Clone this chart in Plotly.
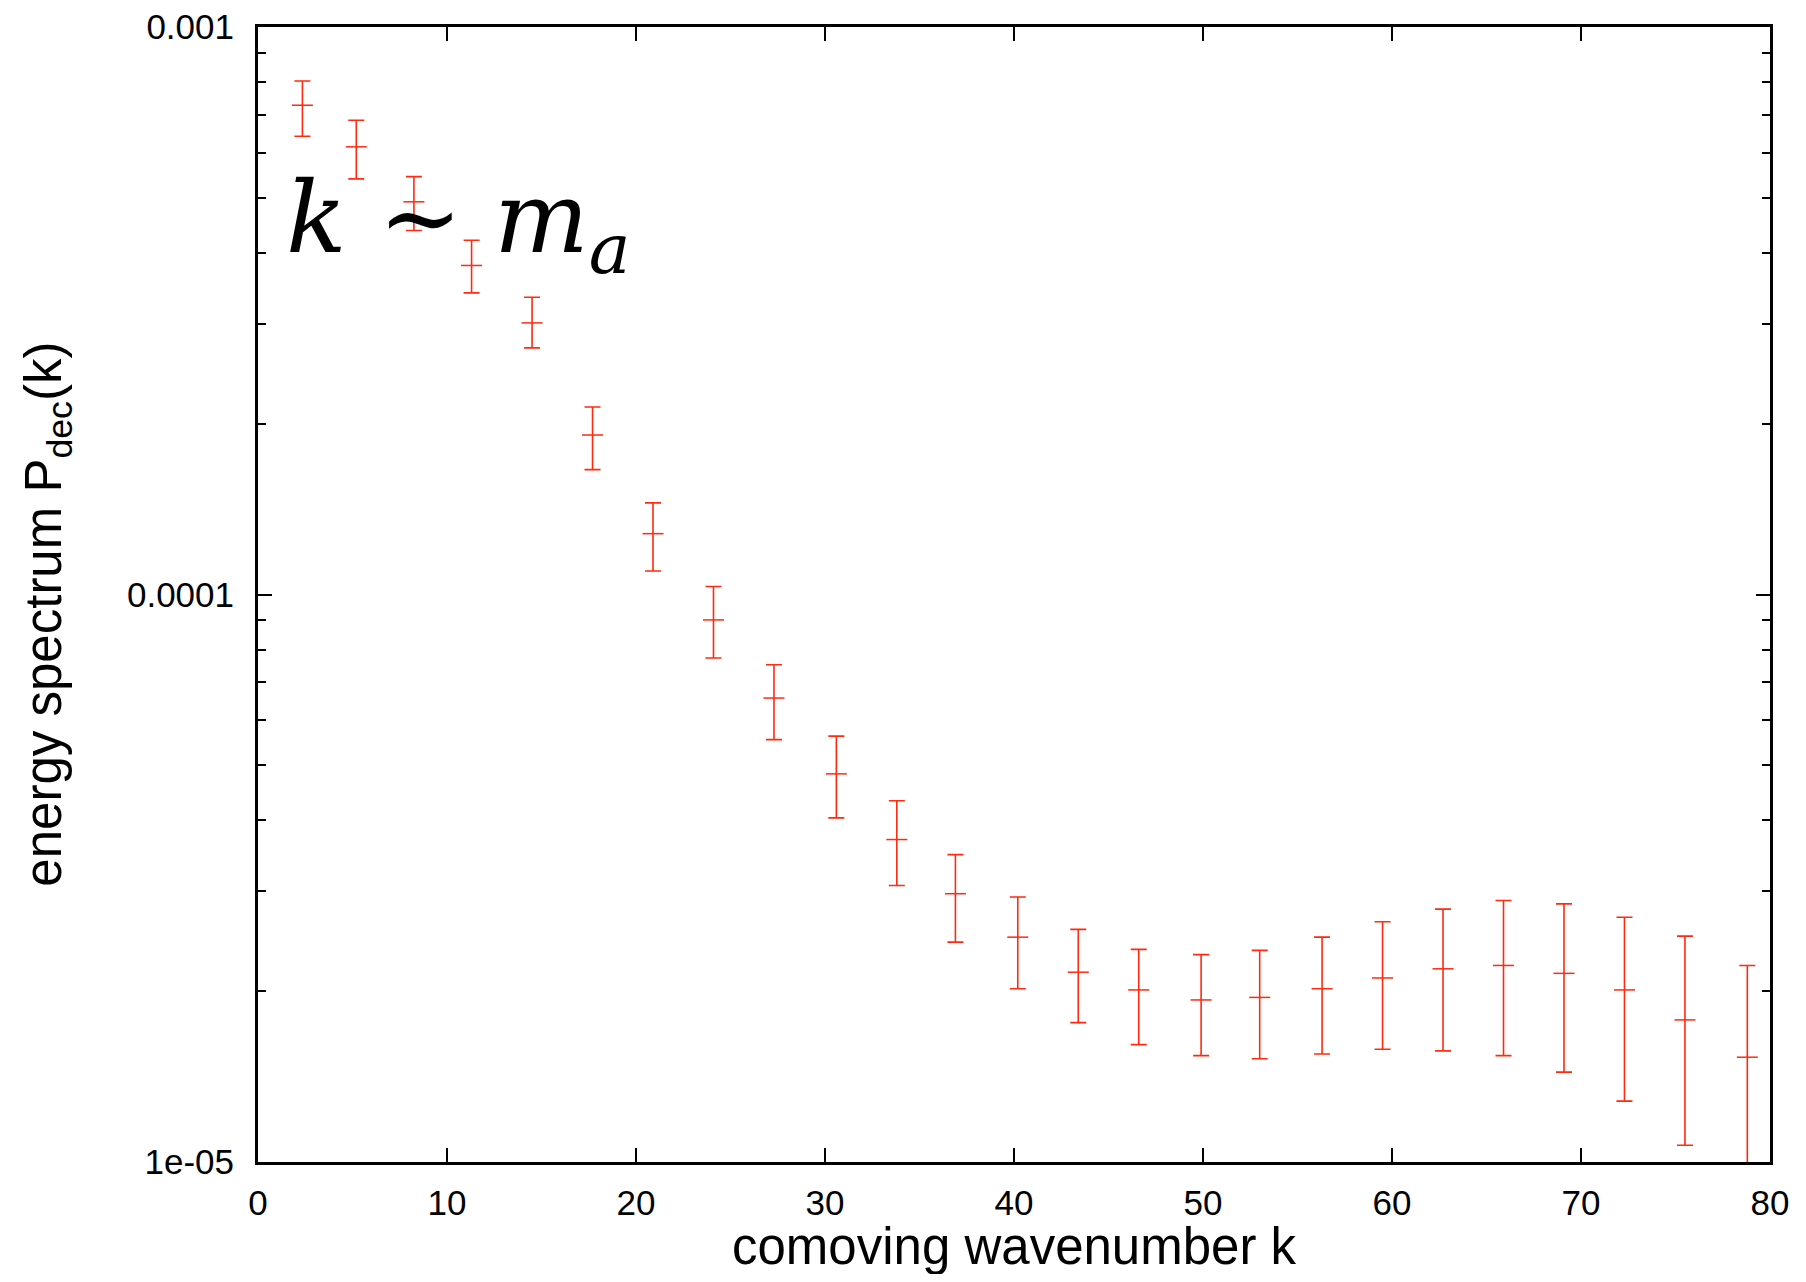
import plotly.graph_objects as go

k = [2.35, 5.2, 8.25, 11.3, 14.5, 17.7, 20.9, 24.1, 27.3, 30.6, 33.8, 36.9, 40.2,
     43.4, 46.6, 49.9, 53.0, 56.3, 59.5, 62.7, 65.9, 69.1, 72.3, 75.5, 78.8]
P = [7.28e-4, 6.15e-4, 4.92e-4, 3.80e-4, 3.01e-4, 1.91e-4, 1.28e-4, 9.02e-5, 6.57e-5,
     4.83e-5, 3.70e-5, 2.97e-5, 2.49e-5, 2.16e-5, 2.01e-5, 1.93e-5, 1.95e-5, 2.02e-5,
     2.11e-5, 2.19e-5, 2.22e-5, 2.15e-5, 2.01e-5, 1.78e-5, 1.53e-5]
P_hi = [8.03e-4, 6.85e-4, 5.45e-4, 4.21e-4, 3.34e-4, 2.14e-4, 1.45e-4, 1.033e-4, 7.52e-5,
        5.63e-5, 4.33e-5, 3.48e-5, 2.93e-5, 2.57e-5, 2.37e-5, 2.32e-5, 2.36e-5, 2.49e-5,
        2.65e-5, 2.79e-5, 2.89e-5, 2.85e-5, 2.70e-5, 2.50e-5, 2.22e-5]
P_lo = [6.42e-4, 5.40e-4, 4.38e-4, 3.40e-4, 2.72e-4, 1.66e-4, 1.10e-4, 7.73e-5, 5.55e-5,
        4.04e-5, 3.07e-5, 2.44e-5, 2.02e-5, 1.76e-5, 1.61e-5, 1.54e-5, 1.52e-5, 1.55e-5,
        1.58e-5, 1.57e-5, 1.54e-5, 1.44e-5, 1.28e-5, 1.07e-5, 0.84e-5]

y_major = [1e-5, 1e-4, 1e-3]
y_major_text = ["1e-05", "0.0001", "0.001"]
x_ticks = [0, 10, 20, 30, 40, 50, 60, 70, 80]

err_plus = [h - p for h, p in zip(P_hi, P)]
err_minus = [p - l for p, l in zip(P, P_lo)]

RED = "#ff2a10"

fig = go.Figure()
fig.add_trace(go.Scatter(
    x=k, y=P, mode="markers",
    marker=dict(symbol="line-ew", size=15, color=RED, line=dict(color=RED, width=1.5)),
    error_y=dict(type="data", symmetric=False, array=err_plus, arrayminus=err_minus,
                 color=RED, thickness=1.6, width=8),
    showlegend=False,
))

minor_vals = []
for d in [1e-5, 1e-4]:
    for m in range(2, 10):
        minor_vals.append(m * d)

fig.update_layout(
    width=1790, height=1266,
    margin=dict(l=250, r=28, t=19, b=112, autoexpand=False),
    plot_bgcolor="white", paper_bgcolor="white",
    font=dict(family="Liberation Sans, Arial, sans-serif", color="black"),
    xaxis=dict(
        range=[0, 80], tickvals=x_ticks, ticks="inside", ticklen=14, tickwidth=2,
        tickcolor="black", showline=True, linecolor="black", linewidth=3, mirror="allticks",
        showgrid=False, zeroline=False, tickfont=dict(size=35), ticklabelstandoff=8,
        ticklabeloverflow="allow", automargin=False,
    ),
    yaxis=dict(
        type="log", range=[-5, -3], tickvals=y_major, ticktext=y_major_text,
        ticks="inside", ticklen=14, tickwidth=2, tickcolor="black",
        showline=True, linecolor="black", linewidth=3, mirror="allticks",
        showgrid=False, zeroline=False, tickfont=dict(size=35), ticklabelstandoff=14,
        ticklabeloverflow="allow", automargin=False,
        minor=dict(tickvals=minor_vals, ticks="inside", ticklen=8, tickwidth=2,
                   tickcolor="black", showgrid=False),
    ),
)

fig.add_annotation(
    x=0.5, y=-0.0747, xref="paper", yref="paper", xanchor="center", yanchor="middle",
    showarrow=False, text="comoving wavenumber k",
    font=dict(family="Liberation Sans, Arial, sans-serif", size=51, color="black"),
)

fig.add_annotation(
    x=-0.139, y=0.483, xref="paper", yref="paper", xanchor="center", yanchor="middle",
    textangle=-90, showarrow=False,
    text="energy spectrum P<sub>dec</sub>(k)",
    font=dict(family="Liberation Sans, Arial, sans-serif", size=51, color="black"),
)

fig.add_annotation(
    x=0.017, y=0.826, xref="paper", yref="paper", xanchor="left", yanchor="middle",
    text="<i>k</i> ∼ <i>m</i><sub><i>a</i></sub>", showarrow=False,
    font=dict(family="DejaVu Serif, Liberation Serif, serif", size=100, color="black"),
)

fig.write_html("out.html")
